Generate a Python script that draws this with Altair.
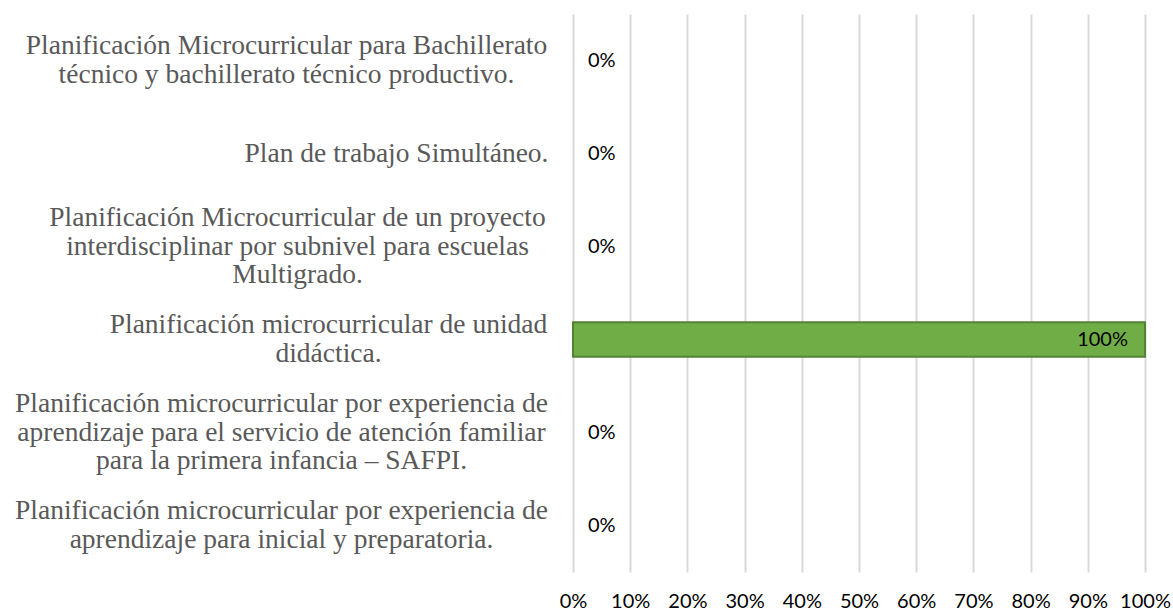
import json
import altair as alt
import pandas as pd

categories = [
    "Planificación Microcurricular para Bachillerato|técnico  y bachillerato técnico productivo.",
    "Plan de trabajo Simultáneo.",
    "Planificación Microcurricular de un proyecto|interdisciplinar por subnivel para escuelas|Multigrado.",
    "Planificación microcurricular de unidad|didáctica.",
    "Planificación microcurricular por experiencia de|aprendizaje para el servicio de atención familiar|para la primera infancia – SAFPI.",
    "Planificación microcurricular por experiencia de|aprendizaje para inicial y preparatoria.",
]
values = [0.0, 0.0, 0.0, 1.0, 0.0, 0.0]
x_ticks = [0, 0.1, 0.2, 0.3, 0.4, 0.5, 0.6, 0.7, 0.8, 0.9, 1.0]

df = pd.DataFrame({"cat": categories, "val": values})

LINE_H = 28.5

# label groups: (member indexes, align, padding) - lines centred, block right-aligned
label_groups = [
    ([4, 5], "center", 292),
    ([0], "center", 287),
    ([2], "center", 276),
    ([3], "center", 245),
    ([1], "right", 25),
]


def y_axis_for(members, align, padding):
    names = json.dumps([categories[i] for i in members], ensure_ascii=False)
    return alt.Axis(
        orient="left",
        labelExpr=f"indexof({names}, datum.value) >= 0 ? split(datum.label, '|') : ''",
        labelFont="Liberation Serif",
        labelFontSize=27.5,
        labelColor="#595959",
        labelLineHeight=LINE_H,
        labelLimit=700,
        labelPadding=padding,
        labelAlign=align,
        labelBaseline="middle",
        labelOffset=alt.ExprRef(
            expr=f"-(length(split(datum.label, '|')) - 1) * {LINE_H / 2}"
        ),
        domain=False,
        ticks=False,
        grid=False,
        title=None,
    )


y_scale = alt.Scale(paddingInner=0.63, paddingOuter=0.315)

x_axis = alt.Axis(
    values=x_ticks,
    format=".0%",
    labelFont="Lato",
    labelFontSize=20,
    labelColor="#000000",
    labelPadding=19,
    domain=False,
    ticks=False,
    grid=True,
    gridColor="#d9d9d9",
    gridWidth=2,
    labelFlush=False,
)
x_scale = alt.Scale(domain=[0, 1], nice=False)


def x_enc():
    return alt.X("val:Q", title=None, scale=x_scale, axis=x_axis)


members0, align0, pad0 = label_groups[0]
bars = alt.Chart(df).transform_filter("datum.val > 0").mark_bar(
    color="#70AD47", stroke="#548235", strokeWidth=2
).encode(
    x=x_enc(),
    y=alt.Y("cat:N", sort=categories, title=None, scale=y_scale,
            axis=y_axis_for(members0, align0, pad0)),
)

label_layers = []
for members, align, pad in label_groups[1:]:
    label_layers.append(
        alt.Chart(df).mark_point(opacity=0, size=1).encode(
            x=x_enc(),
            y=alt.Y("cat:N", sort=categories, title=None,
                    axis=y_axis_for(members, align, pad)),
        )
    )

low_text = alt.Chart(df).transform_filter("datum.val < 0.5").mark_text(
    align="left", baseline="middle", dx=15, font="Lato", fontSize=20, color="#000000"
).encode(
    x=x_enc(),
    y=alt.Y("cat:N", sort=categories, axis=None),
    text=alt.Text("val:Q", format=".0%"),
)

high_text = alt.Chart(df).transform_filter("datum.val >= 0.5").mark_text(
    align="right", baseline="middle", dx=-17, font="Lato", fontSize=20, color="#000000"
).encode(
    x=x_enc(),
    y=alt.Y("cat:N", sort=categories, axis=None),
    text=alt.Text("val:Q", format=".0%"),
)

chart = alt.layer(bars, *label_layers, low_text, high_text).resolve_axis(
    y="independent"
).properties(
    width=572,
    height=558,
    autosize=alt.AutoSizeParams(type="none"),
    padding={"left": 573, "top": 14, "right": 28, "bottom": 38},
    background="white",
).configure_view(stroke=None)

chart.save("out.html", embed_options={"renderer": "svg", "actions": False})
